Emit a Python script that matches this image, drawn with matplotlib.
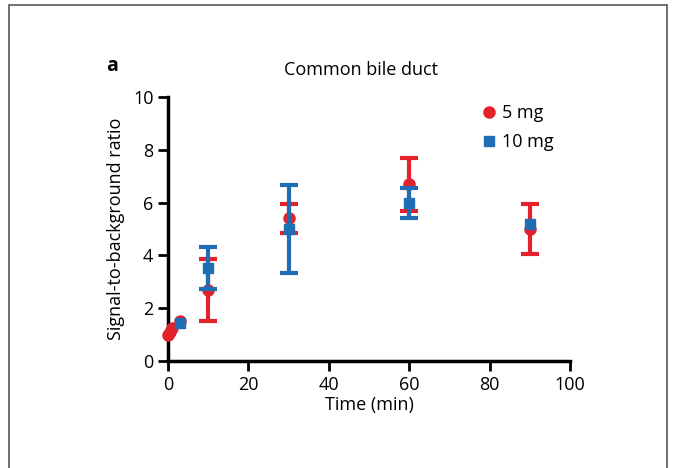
import matplotlib
matplotlib.use('Agg')
import matplotlib.pyplot as plt
from matplotlib.patches import Rectangle

# data
time_5mg = [0, 0.5, 1, 3, 10, 30, 60, 90]
sbr_5mg = [1.0, 1.1, 1.25, 1.5, 2.7, 5.4, 6.7, 5.0]
err_5mg = [0, 0, 0, 0, 1.17, 0.55, 1.0, 0.95]

time_10mg = [3, 10, 30, 60, 90]
sbr_10mg = [1.45, 3.52, 5.0, 6.0, 5.2]
err_10mg = [0, 0.8, 1.65, 0.57, 0]

red = '#e3222b'
blue = '#1f6db3'

plt.rcParams['font.family'] = ['Open Sans', 'DejaVu Sans']

fig = plt.figure(figsize=(6.74, 4.68), dpi=100)
ax = fig.add_axes([168/674, 1 - 361/468, 402/674, 264/468])


def draw(t, y, e, marker, color, ms, label, z):
    # error bars only where there is a visible spread
    te = [a for a, b in zip(t, e) if b > 0]
    ye = [a for a, b in zip(y, e) if b > 0]
    ee = [b for b in e if b > 0]
    ax.errorbar(te, ye, yerr=ee, fmt='none', ecolor=color, elinewidth=3,
                capsize=6.5, capthick=3, zorder=z)
    ax.plot(t, y, marker, color=color, ms=ms, label=label, clip_on=False, zorder=z)


draw(time_5mg, sbr_5mg, err_5mg, 'o', red, 8, '5 mg', 3)
draw(time_10mg, sbr_10mg, err_10mg, 's', blue, 7.5, '10 mg', 4)

ax.set_xlim(0, 100)
ax.set_ylim(0, 10)
ax.set_xticks([0, 20, 40, 60, 80, 100])
ax.set_yticks([0, 2, 4, 6, 8, 10])
ax.spines['top'].set_visible(False)
ax.spines['right'].set_visible(False)
ax.spines['left'].set_linewidth(2.5)
ax.spines['bottom'].set_linewidth(2.5)
ax.tick_params(width=2, length=7, labelsize=13, colors='black')
ax.set_xlabel('Time (min)', fontsize=13, labelpad=2)
ax.set_ylabel('Signal-to-background ratio', fontsize=13, labelpad=6)
ax.set_title('Common bile duct', fontsize=13, pad=16, x=0.48)

ax.legend(loc='upper right', bbox_to_anchor=(1.0, 1.035), frameon=False,
          fontsize=13, handletextpad=0.1, handlelength=1.2, labelspacing=0.6)

fig.text(106/674, 1 - 66/468, 'a', fontsize=14, fontweight='bold', va='center')

fig.patches.append(Rectangle((9/674, -0.1), 658/674, 1.1 - 5/468, transform=fig.transFigure,
                             fill=False, edgecolor='#555555', linewidth=1.2))

fig.savefig('out.png', dpi=100)
